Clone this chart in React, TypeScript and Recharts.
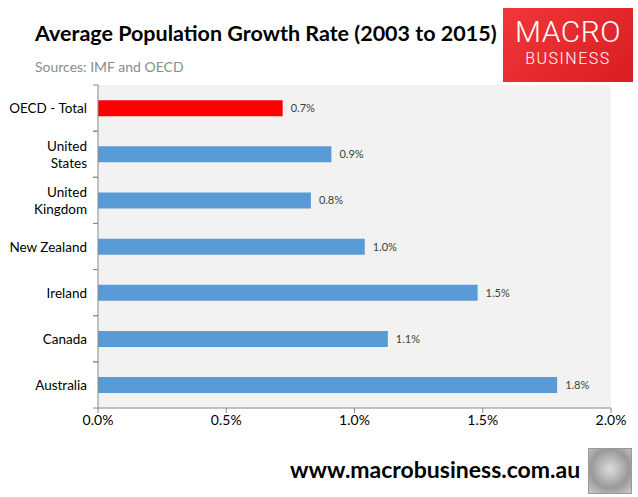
import React from 'react';
import { BarChart, Bar, XAxis, YAxis, CartesianGrid, Cell, LabelList } from 'recharts';

const countries = ['OECD - Total', 'United States', 'United Kingdom', 'New Zealand', 'Ireland', 'Canada', 'Australia'];
const growthRates = [0.72, 0.91, 0.83, 1.04, 1.48, 1.13, 1.79];
const highlight = ['OECD - Total'];
const xTicks = [0, 0.5, 1.0, 1.5, 2.0];

const data = countries.map((name, i) => ({ name, value: growthRates[i] }));

const PLOT_TOP = 85;
const PLOT_BOTTOM = 408;
const BAND = (PLOT_BOTTOM - PLOT_TOP) / countries.length;

const FONT = 'Lato, "Open Sans", sans-serif';

const CountryTick = (props: any) => {
    const { x, y, payload } = props;
    const label: string = payload.value;
    const parts = label.startsWith('United ') ? ['United', label.slice(7)] : [label];
    return (
        <g>
            <line x1={x + 3} x2={x + 8} y1={y - BAND / 2} y2={y - BAND / 2} stroke="#888" />
            <line x1={x + 3} x2={x + 8} y1={y + BAND / 2} y2={y + BAND / 2} stroke="#888" />
            <text x={x - 3} y={y} textAnchor="end" fontSize={13.5} fill="#000" fontFamily={FONT}>
                {parts.map((p, i) => (
                    <tspan key={p} x={x - 3} dy={i === 0 ? (parts.length === 1 ? 5 : -3) : 17}>{p}</tspan>
                ))}
            </text>
        </g>
    );
};

export default function App() {
    return (
        <div style={{ position: 'absolute', left: 0, top: 0, width: 638, height: 497, background: '#fff', fontFamily: FONT, overflow: 'hidden' }}>
            <div style={{ position: 'absolute', left: 35, top: 20, fontSize: 21.5, fontWeight: 700, color: '#000', whiteSpace: 'nowrap' }}>
                Average Population Growth Rate (2003 to 2015)
            </div>
            <div style={{ position: 'absolute', left: 35, top: 58, fontSize: 14, color: '#8c8c8c' }}>
                Sources: IMF and OECD
            </div>
            <div style={{ position: 'absolute', left: 503, top: 8, width: 130, height: 74, background: 'linear-gradient(135deg, #f2373a, #d81e22)', color: '#fff', textAlign: 'center', fontFamily: 'Roboto, sans-serif' }}>
                <div style={{ fontSize: 30, fontWeight: 300, letterSpacing: 0.5, marginTop: 9, lineHeight: '30px' }}>MACRO</div>
                <div style={{ fontSize: 16, fontWeight: 300, letterSpacing: 1.5, marginTop: 3, lineHeight: '18px' }}>BUSINESS</div>
            </div>
            <div style={{ position: 'absolute', left: 0, top: 0 }}>
                <BarChart
                    width={638}
                    height={497}
                    data={data}
                    layout="vertical"
                    margin={{ top: PLOT_TOP, right: 27, bottom: 59, left: 8 }}
                    barCategoryGap="33%"
                >
                    <CartesianGrid fill="#f2f2f2" stroke="none" horizontal={false} vertical={false} />
                    <XAxis
                        type="number"
                        domain={[0, 2]}
                        ticks={xTicks}
                        tickFormatter={(v: number) => `${v.toFixed(1)}%`}
                        stroke="#888"
                        tick={{ fill: '#000', fontSize: 14, fontFamily: FONT }}
                        tickSize={5}
                        height={30}
                    />
                    <YAxis
                        type="category"
                        dataKey="name"
                        width={90}
                        stroke="#888"
                        tickLine={false}
                        tick={<CountryTick />}
                    />
                    <Bar dataKey="value" isAnimationActive={false}>
                        {data.map(d => (
                            <Cell key={d.name} fill={highlight.includes(d.name) ? '#ff0000' : '#5b9bd5'} />
                        ))}
                        <LabelList
                            dataKey="value"
                            position="right"
                            offset={8}
                            formatter={(v: any) => `${Number(v).toFixed(1)}%`}
                            style={{ fontSize: 11, fill: '#404040', fontFamily: FONT }}
                        />
                    </Bar>
                </BarChart>
            </div>
            <div style={{ position: 'absolute', left: 290, top: 455, fontSize: 23, fontWeight: 700, color: '#000', whiteSpace: 'nowrap' }}>
                www.macrobusiness.com.au
            </div>
            <div style={{ position: 'absolute', left: 588, top: 448, width: 42, height: 44, border: '1px solid #999', background: 'radial-gradient(circle at 50% 45%, #ddd, #999 60%, #ccc)' }} />
        </div>
    );
}
